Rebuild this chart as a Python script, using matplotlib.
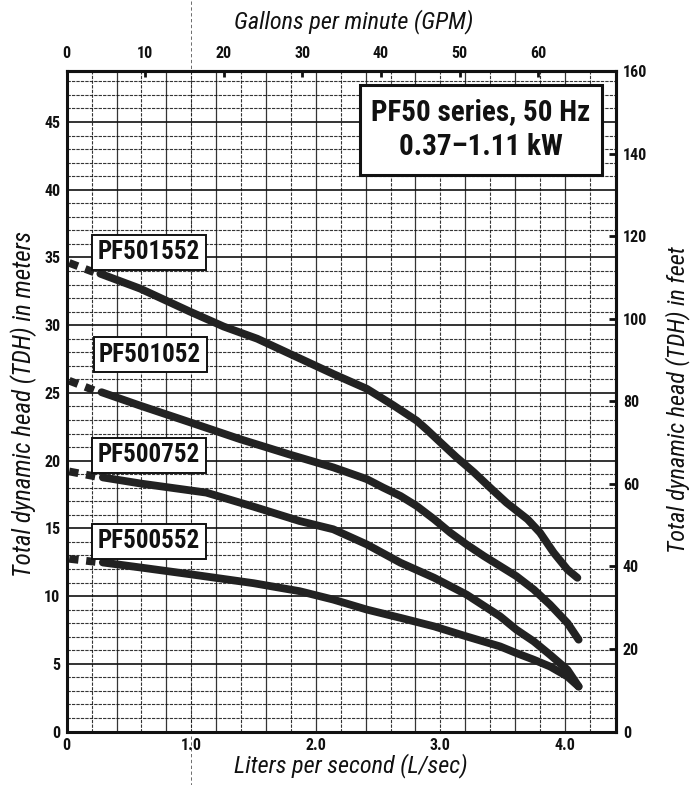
import numpy as np
import matplotlib
matplotlib.use("Agg")
import matplotlib.pyplot as plt
from matplotlib import font_manager as fm
from matplotlib.patches import Rectangle

# ---------------- data ----------------
models = ["PF501552", "PF501052", "PF500752", "PF500552"]

q_1552 = [0.27, 0.59, 0.99, 1.26, 1.53, 1.80, 2.14, 2.41, 2.62, 2.81, 2.89, 3.00, 3.13, 3.27, 3.40, 3.53, 3.70, 3.80, 3.91, 4.02, 4.10]
h_1552 = [33.8, 32.7, 31.0, 29.9, 29.0, 27.85, 26.4, 25.3, 24.1, 22.95, 22.3, 21.35, 20.24, 19.13, 18.0, 16.9, 15.67, 14.68, 13.2, 11.96, 11.35]

q_1052 = [0.28, 0.59, 0.99, 1.39, 1.79, 2.14, 2.41, 2.54, 2.68, 2.81, 2.95, 3.08, 3.21, 3.35, 3.48, 3.61, 3.75, 3.88, 4.02, 4.11]
h_1052 = [25.05, 24.06, 22.83, 21.59, 20.45, 19.5, 18.63, 18.01, 17.39, 16.65, 15.67, 14.68, 13.81, 12.95, 12.21, 11.47, 10.48, 9.37, 8.01, 6.78]

q_0752 = [0.29, 0.60, 1.12, 1.50, 1.87, 2.14, 2.41, 2.68, 2.95, 3.21, 3.48, 3.61, 3.75, 3.88, 4.02, 4.11]
h_0752 = [18.76, 18.3, 17.64, 16.6, 15.54, 14.93, 13.81, 12.46, 11.35, 10.11, 8.5, 7.52, 6.65, 5.67, 4.56, 3.32]

q_0552 = [0.29, 0.60, 1.00, 1.50, 1.87, 2.14, 2.41, 2.68, 2.95, 3.21, 3.48, 3.61, 3.75, 3.88, 4.02, 4.11]
h_0552 = [12.48, 12.1, 11.6, 10.95, 10.36, 9.74, 9.0, 8.39, 7.76, 7.02, 6.28, 5.79, 5.3, 4.8, 4.06, 3.32]

shutoff_head = [34.6, 25.9, 19.2, 12.75]          # head at zero flow (dashed lead-in)
label_q = [0.66, 0.67, 0.66, 0.66]
label_h = [35.4, 27.8, 20.4, 14.05]

x_ticks = [0, 1, 2, 3, 4]
x_ticklabels = ["0", "1.0", "2.0", "3.0", "4.0"]
y_ticks_m = [0, 5, 10, 15, 20, 25, 30, 35, 40, 45]
gpm_ticks = [0, 10, 20, 30, 40, 50, 60]
feet_ticks = [0, 20, 40, 60, 80, 100, 120, 140, 160]

title_lines = ["PF50 series, 50 Hz", "0.37\u20131.11 kW"]

LPS_TO_GPM = 15.850
M_TO_FT = 1 / 0.3048

# ---------------- fonts ----------------
names = {f.name for f in fm.fontManager.ttflist}
COND = "DejaVu Sans"
for c in ["Roboto Condensed", "Liberation Sans Narrow", "Archivo Narrow", "Barlow Condensed"]:
    if c in names:
        COND = c
        break
plt.rcParams["font.family"] = [COND, "DejaVu Sans"]

# ---------------- figure ----------------
W, H = 698, 785
fig = plt.figure(figsize=(W / 100, H / 100), dpi=100)
ax = fig.add_axes([66.7 / W, (H - 731.5) / H, (616 - 66.7) / W, (731.5 - 71) / H])
ax.set_xlim(0, 4.41)
ax.set_ylim(0, 160 / M_TO_FT)

ink = "#111111"

# grid
for gx in np.arange(0.2, 4.40, 0.2):
    solid = (round(gx / 0.2) % 2 == 0)
    ax.axvline(gx, color=ink, lw=0.9 if solid else 0.8,
               ls="-" if solid else (0, (3.0, 1.2)), zorder=1, alpha=0.85)
for gy in range(1, 49):
    if gy % 5 == 0:
        ax.axhline(gy, color=ink, lw=1.2, ls="-", zorder=1)
    else:
        ax.axhline(gy, color=ink, lw=0.8, ls=(0, (3.0, 1.0)), zorder=1, alpha=0.85)

# fold artifact line through 1.0
ax.axvline(1.0, ymin=-0.12, ymax=1.12, color="#555555", lw=0.6, ls=(0, (4, 3)), clip_on=False, zorder=0)

# curves
curve_color = "#222222"
all_q = [q_1552, q_1052, q_0752, q_0552]
all_h = [h_1552, h_1052, h_0752, h_0552]
for q, h, h0 in zip(all_q, all_h, shutoff_head):
    ax.plot(q, h, color=curve_color, lw=5.6, solid_capstyle="round", solid_joinstyle="round", zorder=3)
    ln, = ax.plot([0.02, q[0] - 0.02], [h0, h[0]], color=curve_color, lw=5.6, zorder=3,
                  solid_capstyle="butt", dash_capstyle="butt")
    ln.set_dashes((1.2, 1.0))

# model labels
for name, lq, lh in zip(models, label_q, label_h):
    ax.text(lq, lh, name, ha="center", va="center", fontsize=18, fontweight="bold",
            color="#111111", zorder=5,
            bbox=dict(boxstyle="square,pad=0.22", fc="white", ec="#111111", lw=1.4))

# title box
ax.add_patch(Rectangle((0.534, 0.8426), 0.9745 - 0.534, 0.9788 - 0.8426, transform=ax.transAxes,
                       fc="white", ec="#111111", lw=2.2, zorder=5))
ax.text(0.7543, 0.9384, title_lines[0], transform=ax.transAxes, ha="center", va="center",
        fontsize=21, fontweight="bold", color="#111111", zorder=6)
ax.text(0.7543, 0.8845, title_lines[1], transform=ax.transAxes, ha="center", va="center",
        fontsize=21, fontweight="bold", color="#111111", zorder=6)

# spines
for s in ax.spines.values():
    s.set_linewidth(2.2)
    s.set_color(ink)
    s.set_zorder(6)

# primary ticks
ax.set_xticks(x_ticks)
ax.set_xticklabels(x_ticklabels)
ax.set_yticks(y_ticks_m)
ax.tick_params(axis="both", length=0, pad=4.5, labelsize=11.5, colors=ink)
for t in ax.get_xticklabels() + ax.get_yticklabels():
    t.set_fontweight("bold")

# secondary axes
top = ax.secondary_xaxis("top", functions=(lambda q: q * LPS_TO_GPM, lambda g: g / LPS_TO_GPM))
top.set_xticks(gpm_ticks)
top.tick_params(direction="in", length=4, width=2, pad=7, labelsize=11.5, colors=ink)
top.spines["top"].set_linewidth(2.2)
for t in top.get_xticklabels():
    t.set_fontweight("bold")

right = ax.secondary_yaxis("right", functions=(lambda m: m * M_TO_FT, lambda f: f / M_TO_FT))
right.set_yticks(feet_ticks)
right.tick_params(direction="in", length=5, width=2, pad=5, labelsize=11.5, colors=ink)
right.spines["right"].set_linewidth(2.2)
for t in right.get_yticklabels():
    t.set_fontweight("bold")

# axis titles
fig.text(354 / W, 1 - 22 / H, "Gallons per minute (GPM)", ha="center", va="center",
         fontsize=17.5, style="italic", color=ink)
fig.text(351 / W, 1 - 766 / H, "Liters per second (L/sec)", ha="center", va="center",
         fontsize=17.5, style="italic", color=ink)
fig.text(24 / W, 1 - 404 / H, "Total dynamic head (TDH) in meters", ha="center", va="center",
         rotation=90, fontsize=18, style="italic", color=ink)
fig.text(678 / W, 1 - 400 / H, "Total dynamic head (TDH) in feet", ha="center", va="center",
         rotation=90, fontsize=17.5, style="italic", color=ink)

fig.savefig("out.png", dpi=100)
